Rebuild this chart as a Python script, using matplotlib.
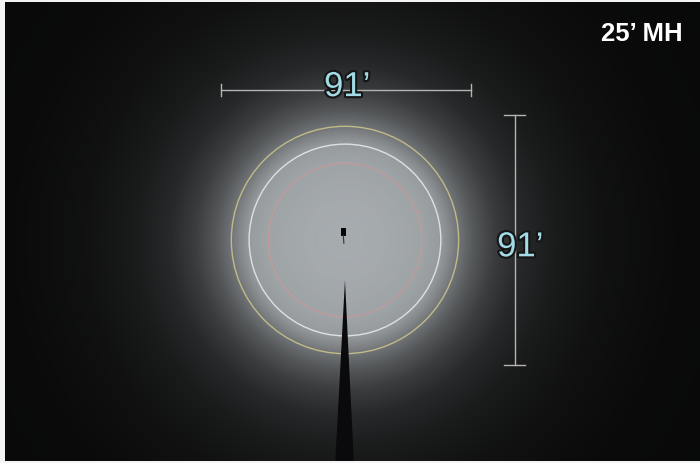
import numpy as np
import matplotlib
matplotlib.use("Agg")
import matplotlib.pyplot as plt
from matplotlib.patches import Circle, Polygon, Rectangle
import matplotlib.patheffects as pe

# --- data (feet, origin = fixture centre) ---
MOUNT_LABEL = "25\u2019 MH"
SPREAD_FT = 91                     # both dimension arrows
SPREAD_LABEL = "91\u2019"

# radial brightness (radius ft -> grey level 0..255)
PROFILE_R = [0, 14.6, 29.2, 35.0, 38.3, 42.0, 47.4, 54.7, 63.9, 76.6, 94.9, 120.4, 170.0]
PROFILE_G = [172, 170, 163, 155, 137, 114, 87, 61, 41, 27, 17, 11, 8]

# isoline radii (ft) and colours, outer to inner
ISO_R = [41.5, 35.0, 28.0, 21.5, 16.0, 10.5]
ISO_C = ["#c9c28c", "#e4e8ea", "#c99a98", "#aaa8ae", "#a9a6ac", "#a8a8ae"]
ISO_A = [0.9, 0.9, 0.8, 0.35, 0.3, 0.25]

# pole shadow outline (ft)
POLE_X = [0.0, -3.6, 3.3]
POLE_Y = [-14.6, -82.0, -82.0]

XLIM = (-124.1, 129.6)
YLIM = (-80.7, 86.9)


def glow_image():
    xs = np.linspace(XLIM[0], XLIM[1], 700)
    ys = np.linspace(YLIM[0], YLIM[1], 460)
    X, Y = np.meshgrid(xs, ys)
    R = np.hypot(X, Y)
    g = np.interp(R, PROFILE_R, PROFILE_G) / 255.0
    tint = np.array([0.97, 1.0, 1.02])
    return np.clip(g[..., None] * tint, 0, 1)


def main():
    fig = plt.figure(figsize=(7, 4.63), dpi=100, facecolor="#f4f4f4")
    ax = fig.add_axes([5 / 700, 2 / 463, 695 / 700, 459 / 463])
    ax.set_xlim(*XLIM)
    ax.set_ylim(*YLIM)
    ax.set_aspect("equal")
    ax.axis("off")

    ax.imshow(glow_image(), extent=(*XLIM, *YLIM), origin="lower",
              interpolation="bilinear", zorder=0)

    for r, c, a in zip(ISO_R, ISO_C, ISO_A):
        ax.add_patch(Circle((0, 0), r, fill=False, ec=c, lw=1.0, alpha=a, zorder=2))

    ax.add_patch(Polygon(list(zip(POLE_X, POLE_Y)), closed=True,
                         fc="#0a0a0c", ec="none", zorder=3))
    ax.add_patch(Rectangle((-1.6, 1.6), 1.8, 2.9, fc="#050505", ec="none", zorder=4))
    ax.plot([-0.6, -0.4], [1.6, -1.2], color="#333", lw=0.8, zorder=4)

    half = SPREAD_FT / 2
    dim_c = "#b4b4b4"
    halo = [pe.withStroke(linewidth=3, foreground="#151515")]

    # horizontal spread
    hy = 54.7
    ax.plot([-half + 0.4, half + 0.4], [hy, hy], color=dim_c, lw=1.0, zorder=5)
    for x in (-half + 0.4, half + 0.4):
        ax.plot([x, x], [hy - 2.3, hy + 2.3], color=dim_c, lw=1.0, zorder=5)
    ax.text(0.8, 56.0, SPREAD_LABEL, color="#a2dbe6", fontsize=25,
            family="Liberation Sans", ha="center", va="center",
            path_effects=halo, zorder=6)

    # vertical spread
    vx = 62.0
    ax.plot([vx, vx], [-half, half], color=dim_c, lw=1.0, zorder=5)
    for y in (-half, half):
        ax.plot([vx - 3.8, vx + 3.8], [y, y], color=dim_c, lw=1.0, zorder=5)
    ax.text(64.0, -2.5, SPREAD_LABEL, color="#a2dbe6", fontsize=25,
            family="Liberation Sans", ha="center", va="center",
            path_effects=halo, zorder=6)

    ax.text(0.975, 0.93, MOUNT_LABEL, transform=ax.transAxes, color="white",
            fontsize=18.5, fontweight="bold", family="Liberation Sans",
            ha="right", va="center", zorder=6)

    fig.savefig("out.png", dpi=100, facecolor=fig.get_facecolor())
    plt.close(fig)


if __name__ == "__main__":
    main()
